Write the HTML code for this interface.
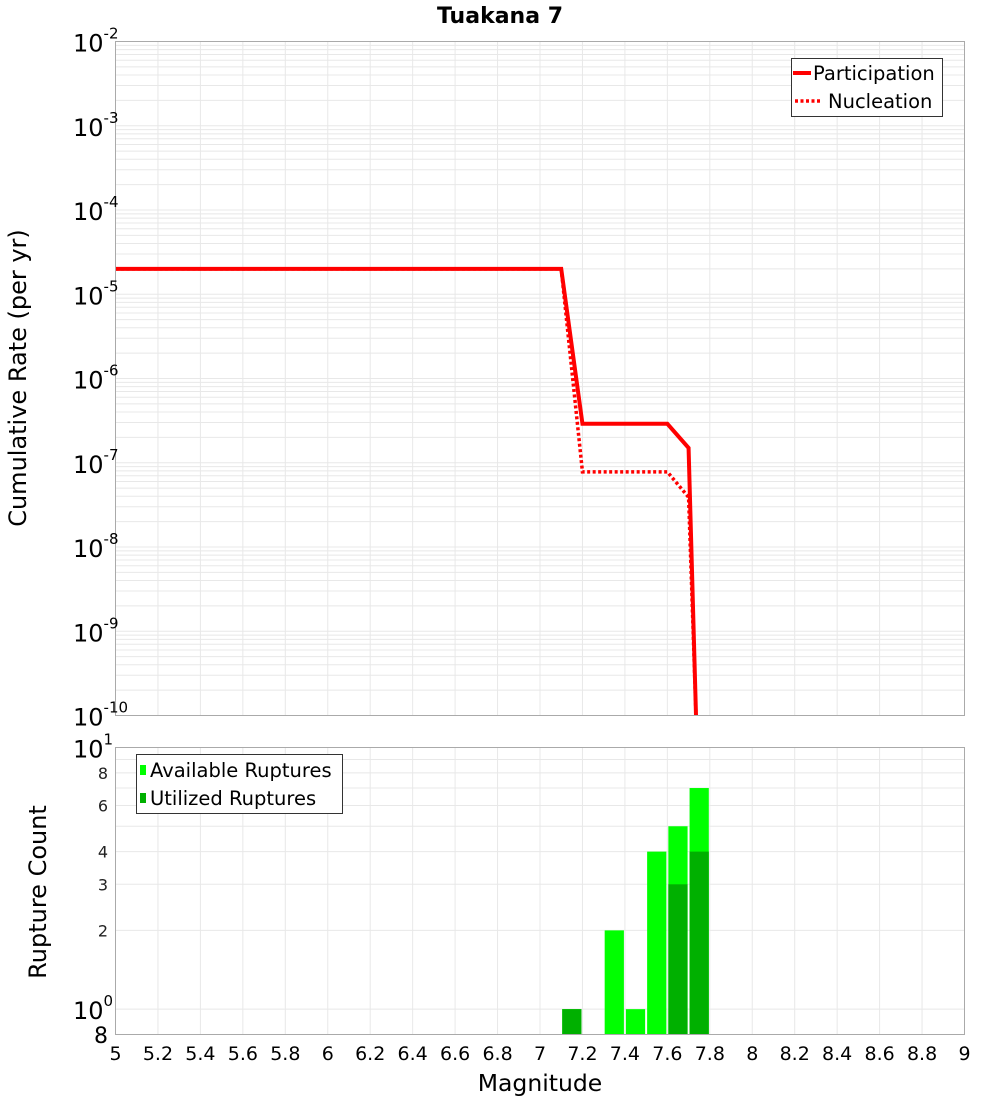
<!DOCTYPE html>
<html><head><meta charset="utf-8"><style>
body{margin:0;background:#fff;}
svg{display:block;font-family:"DejaVu Sans","Liberation Sans",sans-serif;}
</style></head><body>
<svg id="chart" width="1000" height="1100" viewBox="0 0 1000 1100" xmlns="http://www.w3.org/2000/svg">
<text x="500" y="23" text-anchor="middle" font-size="22" font-weight="bold">Tuakana 7</text>
<g id="top-grid"></g>
<g id="bot-grid"></g>
<g id="bars"></g>
<g id="lines"></g>
<rect x="115.5" y="41.5" width="849" height="674" fill="none" stroke="#aaa"/>
<rect x="115.5" y="747.5" width="849" height="287" fill="none" stroke="#aaa"/>
<g id="top-ticks"></g>
<g id="bot-ticks"></g>
<g id="x-ticks"></g>
<text transform="translate(26,378) rotate(-90)" text-anchor="middle" font-size="24">Cumulative Rate (per yr)</text>
<text transform="translate(46,892) rotate(-90)" text-anchor="middle" font-size="24">Rupture Count</text>
<text x="540" y="1091" text-anchor="middle" font-size="23.5">Magnitude</text>
<g>
<rect x="791.5" y="58.5" width="151" height="58" fill="#fff" stroke="#333"/>
<line x1="793" y1="73" x2="811" y2="73" stroke="#f00" stroke-width="4"/>
<text x="813" y="80" font-size="19.5">Participation</text>
<line x1="795" y1="101" x2="820" y2="101" stroke="#f00" stroke-width="3.5" stroke-dasharray="3,2.5"/>
<text x="828" y="108" font-size="19.5">Nucleation</text>
</g>
<g>
<rect x="136.5" y="754.5" width="206" height="59" fill="#fff" stroke="#333"/>
<rect x="140" y="765" width="6" height="10" fill="#00ff00"/>
<text x="150" y="777" font-size="19.5">Available Ruptures</text>
<rect x="140" y="793" width="6" height="10" fill="#00b000"/>
<text x="150" y="805" font-size="19.5">Utilized Ruptures</text>
</g>
</svg>
<script>
const magX = [5, 7.1, 7.2, 7.6, 7.7, 7.735, 7.735];
const participation = [2e-5, 2e-5, 2.9e-7, 2.9e-7, 1.5e-7, 1e-10, 1e-11];
const nucleation = [2e-5, 2e-5, 7.8e-8, 7.8e-8, 3.9e-8, 1e-10, 1e-11];
const binStarts = [7.1, 7.3, 7.4, 7.5, 7.6, 7.7];
const available = [1, 2, 1, 4, 5, 7];
const utilized = [1, 0, 0, 0, 3, 4];
const xTickLabels = ["5","5.2","5.4","5.6","5.8","6","6.2","6.4","6.6","6.8","7","7.2","7.4","7.6","7.8","8","8.2","8.4","8.6","8.8","9"];
const topExps = [-2,-3,-4,-5,-6,-7,-8,-9,-10];
const botTickVals = [2,3,4,6,8];

const NS="http://www.w3.org/2000/svg";
const X0=115.5,X1=964.5;
const xs=m=>X0+(m-5)/4*(X1-X0);
const TY0=41.5,TY1=715.5;
const ty=v=>TY0+(-2-Math.log10(v))/8*(TY1-TY0);
const BY0=747.5,BY1=1034.5,BMIN=Math.log10(0.8);
const by=v=>BY1-(Math.log10(v)-BMIN)/(1-BMIN)*(BY1-BY0);
function mk(tag,attrs,parent,txt){const e=document.createElementNS(NS,tag);for(const k in attrs)e.setAttribute(k,attrs[k]);if(txt!==undefined)e.textContent=txt;parent.appendChild(e);return e;}
const tg=document.getElementById('top-grid'),bg=document.getElementById('bot-grid');
for(let i=1;i<20;i++){const x=xs(5+i*0.2);
 let l=mk('line',{x1:x,x2:x,y1:TY0,y2:TY1,stroke:'#e8e8e8'},tg);
 l=mk('line',{x1:x,x2:x,y1:BY0,y2:BY1,stroke:'#e8e8e8'},bg);}
for(let e=-10;e<-2;e++)for(let k=1;k<10;k++){const y=ty(k*Math.pow(10,e));if(y<TY0||y>TY1)continue;
 const l=mk('line',{x1:X0,x2:X1,y1:y,y2:y,stroke:'#e8e8e8'},tg);}
for(let k=1;k<10;k++){const y=by(k);const l=mk('line',{x1:X0,x2:X1,y1:y,y2:y,stroke:'#e8e8e8'},bg);}
const bars=document.getElementById('bars');
binStarts.forEach((b,i)=>{const x=xs(b)+1,w=xs(b+0.1)-xs(b)-2;
 let r=mk('rect',{x:x,y:by(available[i]),width:w,height:BY1-by(available[i]),fill:'#00ff00'},bars);
 if(utilized[i]>0){r=mk('rect',{x:x,y:by(utilized[i]),width:w,height:BY1-by(utilized[i]),fill:'#00b000'},bars);}
});
const lg=document.getElementById('lines');
const clip=mk('clipPath',{id:'tc'},lg);mk('rect',{x:X0,y:TY0,width:X1-X0,height:TY1-TY0},clip);
const pts=a=>a.map((v,i)=>xs(magX[i])+','+ty(v)).join(' ');
let p=mk('polyline',{points:pts(nucleation),fill:'none',stroke:'#f00','stroke-width':3.5,'stroke-dasharray':'3,2.5','clip-path':'url(#tc)'},lg);

p=mk('polyline',{points:pts(participation),fill:'none',stroke:'#f00','stroke-width':4,'clip-path':'url(#tc)'},lg);

const tt=document.getElementById('top-ticks');
topExps.forEach(e=>{const y=ty(Math.pow(10,e));
 const t=mk('text',{x:73,y:y+10,'font-size':24},tt,'10');
 mk('tspan',{dy:-13,'font-size':15},t,String(e));});
const bt=document.getElementById('bot-ticks');
let t=mk('text',{x:73,y:by(10)+10,'font-size':24},bt,'10');mk('tspan',{dy:-13,'font-size':15},t,'1');
t=mk('text',{x:73,y:by(1)+10,'font-size':24},bt,'10');mk('tspan',{dy:-13,'font-size':15},t,'0');
t=mk('text',{x:108,y:1043,'font-size':22,'text-anchor':'end'},bt,'8');
botTickVals.forEach(v=>{const t=mk('text',{x:108,y:by(v)+6,'font-size':16,'text-anchor':'end',fill:'#222'},bt,String(v));});
const xt=document.getElementById('x-ticks');
xTickLabels.forEach(s=>{const t=mk('text',{x:xs(parseFloat(s)),y:1060,'font-size':19,'text-anchor':'middle'},xt,s);});
</script>
</body></html>
